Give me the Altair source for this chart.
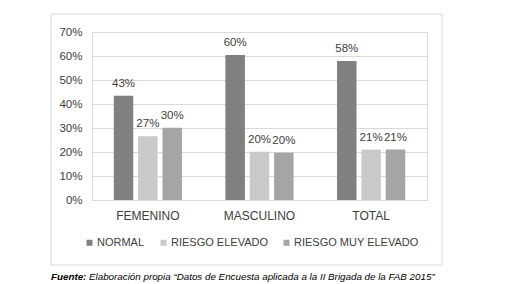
import altair as alt
import pandas as pd

categories = ["FEMENINO", "MASCULINO", "TOTAL"]
series = ["NORMAL", "RIESGO ELEVADO", "RIESGO MUY ELEVADO"]
normal = [0.434, 0.604, 0.579]
riesgo_elevado = [0.266, 0.201, 0.210]
riesgo_muy_elevado = [0.301, 0.197, 0.210]
colors = ["#808080", "#c9c9c9", "#a5a5a5"]
caption_bold = "Fuente:"
caption_rest = "Elaboración propia \u201cDatos de Encuesta aplicada a la II Brigada de la FAB 2015\u201d"

rows = []
for s, vals in zip(series, [normal, riesgo_elevado, riesgo_muy_elevado]):
    for c, v in zip(categories, vals):
        rows.append({"cat": c, "serie": s, "val": v})
df = pd.DataFrame(rows)

FONT = "Liberation Sans"
TXT = "#404040"

base = alt.Chart(df).encode(
    x=alt.X("cat:N", sort=categories, title=None,
            scale=alt.Scale(paddingInner=0.389, paddingOuter=0.195),
            axis=alt.Axis(labelAngle=0, labelFontSize=12, labelFont=FONT, labelColor=TXT,
                          ticks=False, domain=True, domainColor="#d9d9d9", labelPadding=10)),
    xOffset=alt.XOffset("serie:N", sort=series, scale=alt.Scale(paddingInner=0.2, paddingOuter=0)),
    y=alt.Y("val:Q", title=None,
            scale=alt.Scale(domain=[0, 0.7]),
            axis=alt.Axis(format=".0%", values=[0, 0.1, 0.2, 0.3, 0.4, 0.5, 0.6, 0.7],
                          labelFontSize=11.5, labelFont=FONT, labelColor=TXT, ticks=False,
                          domain=False, gridColor="#d9d9d9", labelPadding=10)),
)

bars = base.mark_bar().encode(
    color=alt.Color("serie:N", sort=series, scale=alt.Scale(domain=series, range=colors),
                    legend=alt.Legend(title=None, orient="none", legendX=-8, legendY=205,
                                      direction="horizontal", symbolType="square",
                                      symbolSize=36, symbolStrokeWidth=0,
                                      labelFontSize=11, labelFont=FONT, labelColor=TXT,
                                      labelOffset=2, columnPadding=13))
)

labels = base.mark_text(baseline="bottom", dy=-7, fontSize=11.5, font=FONT, color=TXT).encode(
    text=alt.Text("val:Q", format=".0%")
)

frame = alt.Chart(pd.DataFrame({"a": [0]})).mark_rect(
    fill=None, stroke="#d9d9d9", strokeWidth=1
).encode(x=alt.value(-41), x2=alt.value(350), y=alt.value(-18), y2=alt.value(233))

cap1 = alt.Chart(pd.DataFrame({"t": [caption_bold]})).mark_text(
    align="left", baseline="alphabetic", fontSize=9.8, fontWeight="bold", fontStyle="italic",
    font="Liberation Sans", color="#000000"
).encode(text="t:N", x=alt.value(-41), y=alt.value(248))

cap2 = alt.Chart(pd.DataFrame({"t": [caption_rest]})).mark_text(
    align="left", baseline="alphabetic", fontSize=9.8, fontStyle="italic",
    font="Liberation Sans", color="#000000"
).encode(text="t:N", x=alt.value(-3), y=alt.value(248))

chart = alt.layer(frame, bars, labels, cap1, cap2).properties(
    width=335, height=168,
    autosize=alt.AutoSizeParams(type="none"),
    padding={"left": 84, "top": 24, "right": 60, "bottom": 82},
).configure_view(stroke=None).configure(background="white")

chart.save("out.html", embed_options={"renderer": "svg", "actions": False})
